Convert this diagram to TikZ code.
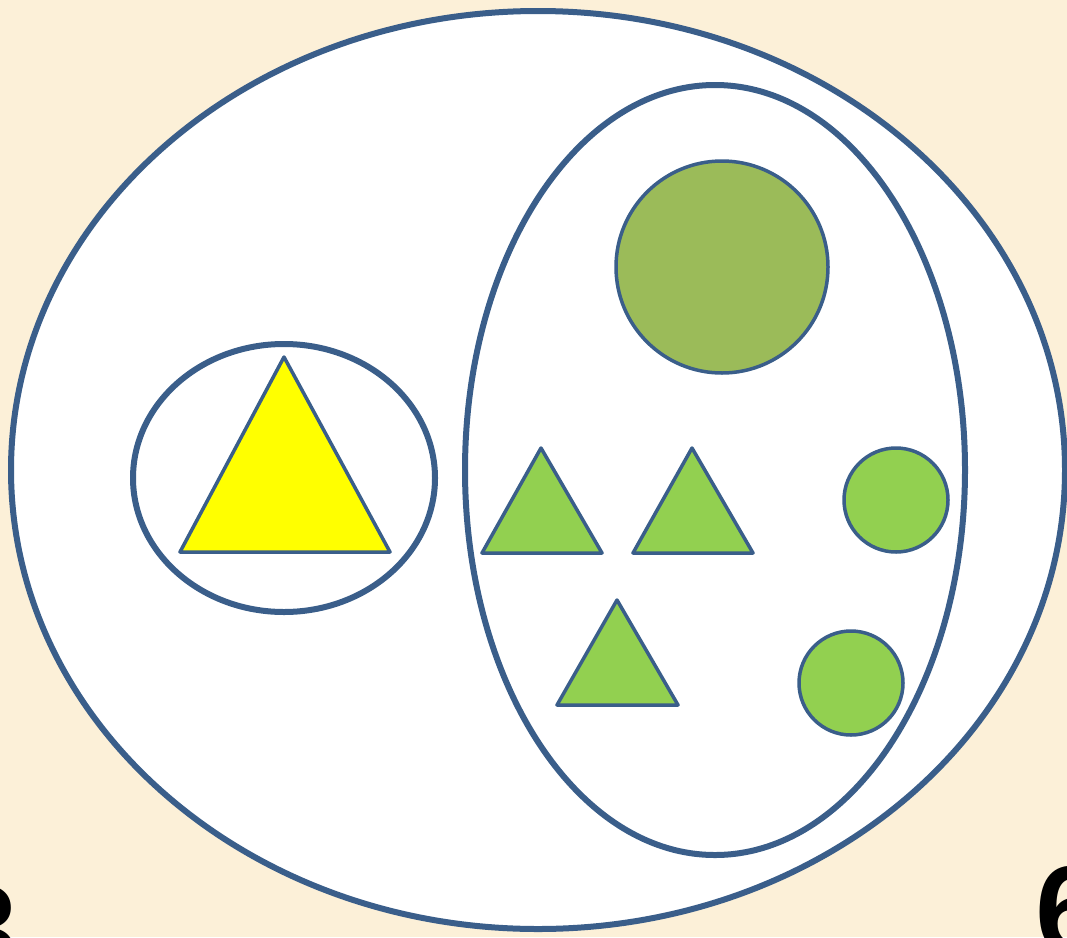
\documentclass[tikz,border=0pt]{standalone}
\usepackage{fontspec}
\setmainfont{Liberation Sans}
\definecolor{bg}{RGB}{252,240,216}
\definecolor{edge}{RGB}{58,94,138}
\definecolor{olive}{RGB}{155,187,89}
\definecolor{lgreen}{RGB}{146,208,80}
\definecolor{yel}{RGB}{255,255,0}
\tikzset{
  setline/.style={draw=edge, line width=6pt, fill=white},
  shapeline/.style={draw=edge, line width=3.5pt, line join=round},
  digit/.style={inner sep=0pt, font=\fontsize{125}{125}\selectfont\bfseries}
}
\begin{document}
\begin{tikzpicture}[x=1pt,y=-1pt]
\path[use as bounding box] (0,0) rectangle (1067,937);
\clip (0,0) rectangle (1067,937);
\fill[bg] (0,0) rectangle (1067,937);
\node[digit, anchor=base east] (three) at (18,972) {3};
\node[digit, anchor=base west] (six) at (1035,953) {6};
% outer set
\draw[setline] (538,470) ellipse [x radius=527, y radius=459];
% right set
\draw[setline] (715,470) ellipse [x radius=250, y radius=385];
% small set
\draw[setline] (284,478) ellipse [x radius=151, y radius=134];
% yellow triangle
\draw[shapeline, fill=yel] (284,357) -- (390,552) -- (180,552) -- cycle;
% green triangles
\draw[shapeline, fill=lgreen] (541,448) -- (602,553) -- (482,553) -- cycle;
\draw[shapeline, fill=lgreen] (692,448) -- (753,553) -- (633,553) -- cycle;
\draw[shapeline, fill=lgreen] (617,600) -- (678,705) -- (557,705) -- cycle;
% circles
\draw[shapeline, fill=olive] (722,267) circle [radius=106];
\draw[shapeline, fill=lgreen] (896,500) circle [radius=52];
\draw[shapeline, fill=lgreen] (851,683) circle [radius=52];
\end{tikzpicture}
\end{document}
